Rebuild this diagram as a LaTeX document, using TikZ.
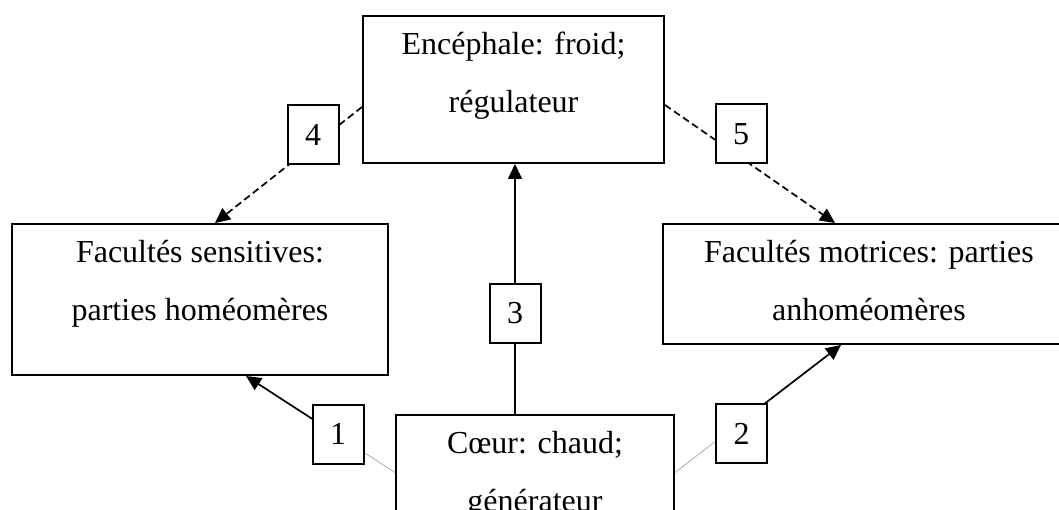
\documentclass[tikz,border=0pt]{standalone}
\usepackage{fontspec}
\setmainfont{Liberation Serif}
\usetikzlibrary{arrows.meta,calc}
\pgfdeclarelayer{bg}
\pgfsetlayers{bg,main}
\begin{document}
\begin{tikzpicture}[x=1pt,y=-1pt,
  bigbox/.style={draw,line width=2pt,fill=white,inner sep=0pt},
  numbox/.style={draw,line width=2pt,fill=white,minimum width=51pt,minimum height=59pt,inner sep=0pt,font=\fontsize{32}{38}\selectfont},
  txt/.style={align=center,inner sep=0pt,anchor=north,font=\fontsize{32}{58}\selectfont},
  conn/.style={line width=1.7pt,-{Triangle[length=15pt,width=14pt]}},
  dconn/.style={conn,dash pattern=on 7pt off 4pt},
  faint/.style={line width=0.6pt,black!40}]
\useasboundingbox (0,0) rectangle (1059,510);

% main boxes
\node[bigbox,minimum width=301pt,minimum height=147pt] (enc) at (513.5,89.5) {};
\node[txt] (enct) at ([yshift=-17pt]enc.north) {Encéphale: froid;\\régulateur};

\node[bigbox,minimum width=376pt,minimum height=151pt] (sens) at (200,299.5) {};
\node[txt] (senst) at ([yshift=-17pt]sens.north) {Facultés sensitives:\\parties homéomères};

\node[bigbox,minimum width=412pt,minimum height=120pt] (motr) at (869,284) {};
\node[txt] (motrt) at ([yshift=-17pt]motr.north) {Facultés motrices: parties\\anhoméomères};

\node[bigbox,minimum width=278pt,minimum height=115pt] (coeur) at (535,472.5) {};
\node[txt] (coeurt) at ([yshift=-17pt]coeur.north) {Cœur: chaud;\\générateur};

% number boxes
\node[numbox] (n4) at (313,134.5) {4};
\node[numbox] (n5) at (741,134) {5};
\node[numbox] (n3) at (515,313.5) {3};
\node[numbox] (n1) at (338,434) {1};
\node[numbox] (n2) at (741.5,433.5) {2};

% anchor points on the boxes
\coordinate (e4) at ([yshift=-17.5pt]enc.west);
\coordinate (s4) at ([xshift=15pt]sens.north);
\coordinate (e5) at ([yshift=-15.5pt]enc.east);
\coordinate (m5) at ([xshift=-34pt]motr.north);
\coordinate (s1) at ([xshift=46pt]sens.south);
\coordinate (m2) at ([xshift=-28pt]motr.south);

\begin{pgfonlayer}{bg}
  \fill[white] (0,0) rectangle (1059,510);
  \draw[dconn] (e4) -- (s4);
  \draw[dconn] (e5) -- (m5);
  \draw[conn] (n3 |- coeur.north) -- (n3 |- enc.south);
  \draw[faint] (coeur.west) -- (s1);
  \draw[conn] ($(coeur.west)!0.5!(s1)$) -- (s1);
  \draw[faint] (coeur.east) -- (m2);
  \draw[conn] ($(coeur.east)!0.45!(m2)$) -- (m2);
\end{pgfonlayer}
\end{tikzpicture}
\end{document}
